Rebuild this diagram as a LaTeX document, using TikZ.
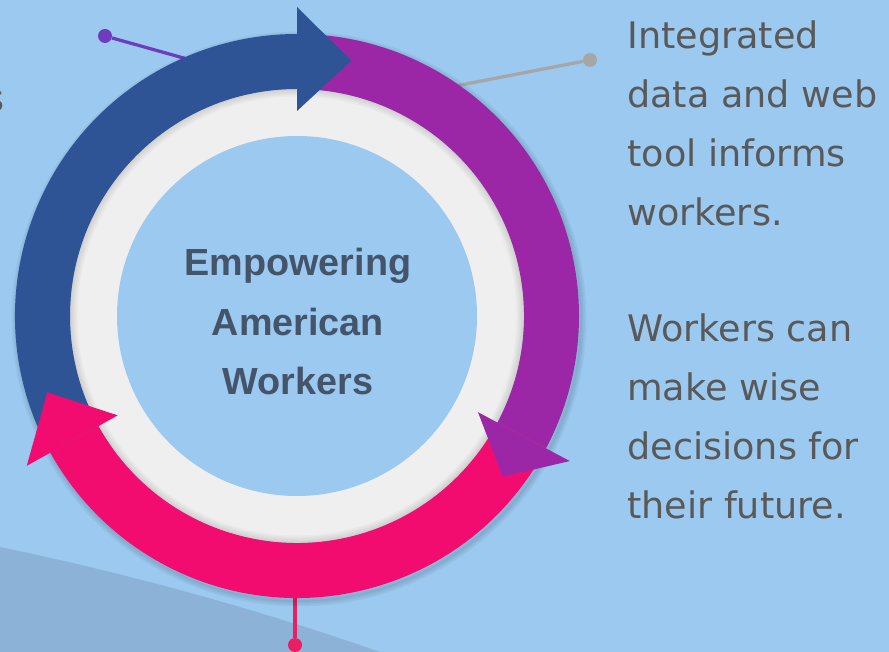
\documentclass[tikz,border=0pt]{standalone}
\usepackage{fontspec}
\setmainfont{DejaVu Sans}
\newfontfamily\hubfont{Liberation Sans}
\usetikzlibrary{positioning}
\definecolor{sky}{RGB}{155,201,240}
\definecolor{wave}{RGB}{141,178,216}
\definecolor{navy}{RGB}{46,84,150}
\definecolor{plum}{RGB}{156,39,166}
\definecolor{rose}{RGB}{242,12,112}
\definecolor{ringgray}{RGB}{239,239,239}
\definecolor{hubgray}{RGB}{68,84,106}
\definecolor{sidegray}{RGB}{89,89,89}
\definecolor{purpline}{RGB}{111,60,190}
\definecolor{greyline}{RGB}{166,166,166}
\definecolor{pinkline}{RGB}{233,30,99}

\begin{document}
\begin{tikzpicture}[
                x=0.02cm,y=0.02cm,
                knob/.style={circle,fill=#1,inner sep=0pt,minimum size=0.28cm},
                lead/.style={draw=#1,line width=0.065cm},
                side/.style={text=sidegray,align=left,inner sep=0pt,font=\fontsize{20.8}{33.6}\selectfont},
                hub/.style={text=hubgray,align=center,inner sep=0pt,font=\hubfont\bfseries\fontsize{21.5}{34}\selectfont}
            ]
                \useasboundingbox (0,0) rectangle (889,652);
                \clip (0,0) rectangle (889,652);
                \fill[sky] (0,0) rectangle (889,652);
                \fill[wave] (0,105) .. controls (130,78) and (260,42) .. (380,0) -- (0,0) -- cycle;
                \coordinate (C) at (297,336);
                \node (dotP) [knob=purpline] at (105,616) {};
                \coordinate (endP) at (205,588);
                \node (dotG) [knob=greyline] at (590,592) {};
                \coordinate (endG) at (440,563);
                \node (dotK) [knob=pinkline] at (295,7) {};
                \coordinate (endK) at (295,80);
                \draw[lead=purpline] (dotP) -- (endP);
                \draw[lead=greyline] (dotG) -- (endG);
                \draw[lead=pinkline] (dotK) -- (endK);
                \begin{scope}[shift={(C)}]
                    \foreach \w in {2,5,8,11}
                        \draw[black,opacity=0.035,line width=\w*0.02cm] (2,-3) circle[radius=282];
                    \fill[ringgray] (0,0) circle[radius=227];
                    \foreach \w in {3,6,...,15}
                        \draw[black,opacity=0.025,line width=\w*0.02cm] (0,0) circle[radius=227];
                    \fill[sky] (0,0) circle[radius=180];
                    \foreach \from/\to/\col in {209/90/navy,90/-28/plum,-28/-151/rose}
                        \fill[\col] (\from:282) arc[start angle=\from,end angle=\to,radius=282] -- (\to:227) arc[start angle=\to,end angle=\from,radius=227] -- cycle;
                    \foreach \b/\t/\col in {90/78/navy,-28/-38/plum,-151/-163/rose}
                        \fill[\col] (\b:309) -- (\t:261) -- (\b:205) -- cycle;
                \end{scope}
                \node (hub) [hub,anchor=base] at (298,257) {Empowering\\American\\Workers};
                \node (info) [side,anchor=base west] at (627,426) {Integrated\\data and web\\tool informs\\workers.};
                \node (advice) [side,anchor=base west] at (627,133) {Workers can\\make wise\\decisions for\\their future.};
                \node (cut) [side,anchor=base east] at (5,540) {s};
            \end{tikzpicture}
\end{document}
